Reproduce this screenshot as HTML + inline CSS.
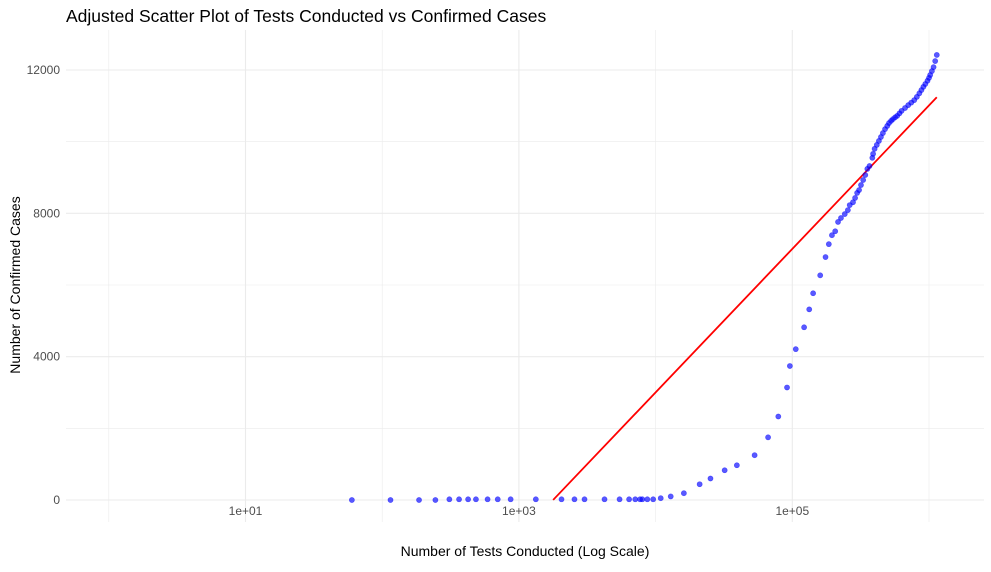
<!DOCTYPE html>
<html><head><meta charset="utf-8"><style>
body{margin:0;background:#fff;font-family:"Liberation Sans",sans-serif}
</style></head><body>
<svg id="c" width="991" height="567" xmlns="http://www.w3.org/2000/svg">
<text x="66" y="22" font-size="17.5" fill="#000">Adjusted Scatter Plot of Tests Conducted vs Confirmed Cases</text>
<g id="grid"></g><g id="line"></g><g id="pts"></g><g id="ticks"></g>
<text x="525" y="556" font-size="14" text-anchor="middle" fill="#000">Number of Tests Conducted (Log Scale)</text>
<text transform="translate(20,285) rotate(-90)" font-size="14" text-anchor="middle" fill="#000">Number of Confirmed Cases</text>
</svg>
<script>
const tests=[60,115,186,245,310,365,425,485,590,700,870,1330,2050,2550,3020,4230,5450,6400,7100,7700,8000,8700,9600,10900,12900,16100,21000,25200,32000,39300,53000,66500,79000,91500,96000,106000,122000,133000,142000,160000,175000,185000,195000,206000,216000,227000,242000,255000,263000,278000,288000,298000,308000,318000,330000,342000,354000,367000,385000,390000,400000,415000,430000,445000,460000,477000,495000,510000,528000,545000,565000,585000,608000,630000,668000,705000,742000,780000,815000,850000,880000,910000,940000,975000,1000000,1020000,1050000,1080000,1110000,1140000];
const cases=[0,0,0,0,20,20,20,20,20,20,20,20,20,20,20,20,20,20,20,20,20,20,20,50,100,190,440,600,830,970,1250,1750,2330,3140,3740,4210,4820,5320,5770,6270,6780,7140,7390,7500,7760,7870,7980,8090,8230,8310,8430,8570,8650,8790,8930,9070,9240,9320,9550,9660,9800,9910,10020,10130,10240,10350,10440,10520,10580,10630,10680,10720,10790,10860,10940,11020,11090,11160,11250,11350,11440,11530,11610,11700,11780,11860,11970,12080,12250,12420];
const fitIntercept=[-13013];
const fitSlope=[4004];
const fitRange=[1780,1140000];
const xTicks=[10,1000,100000];
const xTickLabels=["1e+01","1e+03","1e+05"];
const yTicks=[0,4000,8000,12000];
const ns="http://www.w3.org/2000/svg";
const X=v=>245.5+(Math.log10(v)-1)*136.7;
const Y=v=>500-v*430/12000;
function mk(t,a,p){const e=document.createElementNS(ns,t);for(const k in a)e.setAttribute(k,a[k]);document.getElementById(p).appendChild(e);return e;}
// grid
for(let d=0;d<=6;d++){const g=mk('line',{x1:X(Math.pow(10,d)),x2:X(Math.pow(10,d)),y1:30,y2:522,stroke:'#ebebeb','stroke-width':d%2?1.1:0.6},'grid');

}
for(let v=0;v<=12000;v+=2000){const g=mk('line',{x1:66,x2:984,y1:Y(v),y2:Y(v),stroke:'#ebebeb','stroke-width':v%4000?0.6:1.1},'grid');

}
xTicks.forEach((v,i)=>{const t=mk('text',{x:X(v),y:515,'font-size':12,fill:'#4d4d4d','text-anchor':'middle'},'ticks');t.textContent=xTickLabels[i];

});
yTicks.forEach(v=>{const t=mk('text',{x:60,y:Y(v)+4,'font-size':12,fill:'#4d4d4d','text-anchor':'end'},'ticks');t.textContent=v;

});
tests.forEach((t,i)=>{const c=mk('circle',{cx:X(t),cy:Y(cases[i]),r:2.6,fill:'#0000ff','fill-opacity':0.65,stroke:'#0000ff','stroke-opacity':0.5,'stroke-width':0.6},'pts');

});
const f=v=>fitIntercept[0]+fitSlope[0]*Math.log10(v);
const l=mk('line',{x1:X(fitRange[0]),y1:Y(f(fitRange[0])),x2:X(fitRange[1]),y2:Y(f(fitRange[1])),stroke:'#ff0000','stroke-width':1.8},'line');


</script>
</body></html>
